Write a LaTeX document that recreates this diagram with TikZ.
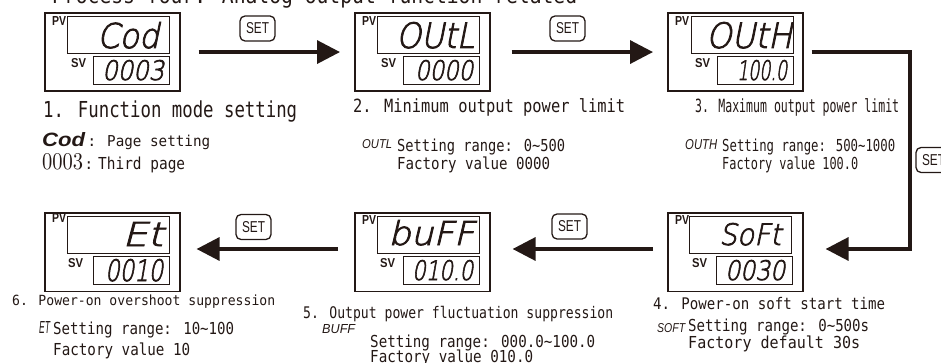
\documentclass[tikz,border=0pt]{standalone}
\usepackage{fontspec}
\usepackage{graphicx}
\usetikzlibrary{arrows.meta}
\newfontfamily\monof{DejaVu Sans Mono}
\newfontfamily\segf{Liberation Sans}
\newfontfamily\seglf{DejaVu Sans ExtraLight}[FakeSlant=0.22,FakeBold=2.5]
\definecolor{ink}{RGB}{35,24,21}
\newcommand\fw[3]{\resizebox{#1pt}{\height}{\monof\fontsize{#2pt}{#2pt}\selectfont #3}}
\newcommand\fb[3]{\resizebox{#1pt}{#2pt}{#3}}
\begin{document}
\begin{tikzpicture}[x=1pt,y=-1pt,
  outerbox/.style={draw=ink, line width=1.6pt, inner sep=0pt, anchor=north west, minimum width=135pt, minimum height=78.5pt},
  pvbox/.style={draw=ink, line width=1.3pt, inner sep=0pt, anchor=north west, minimum width=101.5pt, minimum height=37pt},
  svbox/.style={draw=ink, line width=1.3pt, inner sep=0pt, anchor=north west, minimum width=75.5pt, minimum height=28pt},
  txt/.style={inner sep=0pt, anchor=base west, text=ink},
  colon/.style={inner sep=0pt, anchor=base, text=ink, font=\monof\fontsize{15pt}{15pt}\selectfont},
  conn/.style={draw=ink, line width=3.5pt, -{Triangle[length=23pt,width=23pt]}},
  setbtn/.style={draw=ink, line width=1.3pt, rounded corners=5pt, minimum width=35pt, minimum height=25pt, inner sep=0pt, text=ink}]
\useasboundingbox (0,0) rectangle (941,363);

% title (partly cut off at top)
\node[txt] (title) at (52,4) {\fw{525}{22}{Process four: Analog output function related}};

% ---------- panel 1 ----------
\node[outerbox] (b1) at (44,12) {};
\node[pvbox] (b1pv) at (67,16) {};
\node[svbox] (b1sv) at (93,56) {};
\node[txt] (b1pvl) at (52,25.5) {\fb{14}{9}{\segf\bfseries PV}};
\node[txt] (b1svl) at (71,67.5) {\fb{15}{9}{\segf\bfseries SV}};
\node[txt] (b1pvt) at (97,48) {\fb{62}{26}{\seglf Cod}};
\node[txt] (b1svt) at (102,80) {\fb{62}{20}{\seglf 0003}};

% ---------- panel 2 ----------
\node[outerbox] (b2) at (354,12) {};
\node[pvbox] (b2pv) at (377,16) {};
\node[svbox] (b2sv) at (403,56) {};
\node[txt] (b2pvl) at (362,25.5) {\fb{14}{9}{\segf\bfseries PV}};
\node[txt] (b2svl) at (381,67.5) {\fb{15}{9}{\segf\bfseries SV}};
\node[txt] (b2pvt) at (396,48) {\fb{78}{26}{\seglf OUtL}};
\node[txt] (b2svt) at (415,80) {\fb{58}{20}{\seglf 0000}};

% ---------- panel 3 ----------
\node[outerbox] (b3) at (667,12) {};
\node[pvbox] (b3pv) at (691,16) {};
\node[svbox] (b3sv) at (717,56) {};
\node[txt] (b3pvl) at (675,25.5) {\fb{14}{9}{\segf\bfseries PV}};
\node[txt] (b3svl) at (695,67.5) {\fb{15}{9}{\segf\bfseries SV}};
\node[txt] (b3pvt) at (706,48) {\fb{86}{26}{\seglf OUtH}};
\node[txt] (b3svt) at (737,80) {\fb{50}{20}{\seglf 100.0}};

% ---------- panel 4 ----------
\node[outerbox] (b4) at (667,212) {};
\node[pvbox] (b4pv) at (689,216) {};
\node[svbox] (b4sv) at (716,256) {};
\node[txt] (b4pvl) at (675,224.5) {\fb{14}{9}{\segf\bfseries PV}};
\node[txt] (b4svl) at (692,267.5) {\fb{15}{9}{\segf\bfseries SV}};
\node[txt] (b4pvt) at (719,245) {\fb{62}{22}{\seglf SoFt}};
\node[txt] (b4svt) at (725,280) {\fb{60}{20}{\seglf 0030}};

% ---------- panel 5 ----------
\node[outerbox] (b5) at (354,212) {};
\node[pvbox] (b5pv) at (377,216) {};
\node[svbox] (b5sv) at (403,256) {};
\node[txt] (b5pvl) at (362,224.5) {\fb{14}{9}{\segf\bfseries PV}};
\node[txt] (b5svl) at (380,267.5) {\fb{15}{9}{\segf\bfseries SV}};
\node[txt] (b5pvt) at (388,245) {\fb{86}{25}{\seglf buFF}};
\node[txt] (b5svt) at (412,280) {\fb{61}{20}{\seglf 010.0}};

% ---------- panel 6 ----------
\node[outerbox] (b6) at (44,212) {};
\node[pvbox] (b6pv) at (67,216) {};
\node[svbox] (b6sv) at (93,256) {};
\node[txt] (b6pvl) at (52,222.5) {\fb{14}{9}{\segf\bfseries PV}};
\node[txt] (b6svl) at (68,267.5) {\fb{15}{9}{\segf\bfseries SV}};
\node[txt] (b6pvt) at (122,246) {\fb{41}{24}{\seglf Et}};
\node[txt] (b6svt) at (105,281) {\fb{58}{22}{\seglf 0010}};

% ---------- connectors ----------
\coordinate (c2) at (910,249);
\draw[conn] ([xshift=18pt]b1.east) -- ([xshift=-14pt]b2.west);
\draw[conn] ([xshift=21pt]b2.east) -- ([xshift=-14pt]b3.west);
\draw[conn] ([xshift=8pt]b3.east) -| (c2) -- ([xshift=22pt]b4.east |- c2);
\draw[conn] ([xshift=-14pt]b4.west |- c2) -- ([xshift=22pt]b5.east |- c2);
\draw[conn] ([xshift=-16pt]b5.west |- c2) -- ([xshift=16pt]b6.east |- c2);

% ---------- SET buttons ----------
\node[setbtn] (s1) at (257.5,28.5) {\fb{23}{11}{\segf SET}};
\node[setbtn] (s2) at (567.5,28.5) {\fb{23}{11}{\segf SET}};
\node[setbtn] (s3) at (933.5,160) {\fb{23}{11}{\segf SET}};
\node[setbtn] (s4) at (569.5,226.5) {\fb{23}{11}{\segf SET}};
\node[setbtn] (s5) at (253.5,227) {\fb{23}{11}{\segf SET}};

% ---------- captions ----------
\node[txt] (cap1) at (43,118) {\fw{254}{22}{1. Function mode setting}};
\node[txt] (cap2) at (353,113) {\fw{272}{18.2}{2. Minimum output power limit}};
\node[txt] (cap3) at (695,112.7) {\fw{204}{18.2}{3. Maximum output power limit}};
\node[txt] (cap4) at (653,309) {\fw{232}{16}{4. Power-on soft start time}};
\node[txt] (cap5) at (303,318) {\fw{310}{16}{5. Output power fluctuation suppression}};
\node[txt] (cap6) at (12,305) {\fw{263}{14}{6. Power-on overshoot suppression}};

% ---------- panel 1 notes ----------
\node[txt] (codk) at (42,147) {\fb{43}{14}{\segf\bfseries\itshape Cod}};
\node[colon] (codc) at (92,147) {:};
\node[txt] (codv) at (107,147) {\fw{103}{15}{Page setting}};
\node[txt] (pgk) at (42,170) {\fb{41}{16}{\rmfamily 0003}};
\node[colon] (pgc) at (89,170) {:};
\node[txt] (pgv) at (98,170) {\fw{87}{16.5}{Third page}};

% ---------- panel 2 notes ----------
\node[txt] (n2k) at (362,149) {\fb{30}{9}{\segf\itshape OUTL}};
\node[txt] (n2a) at (397,152) {\fw{168}{16.5}{Setting range: 0\textasciitilde500}};
\node[txt] (n2b) at (397,170) {\fw{153}{16.5}{Factory value 0000}};

% ---------- panel 3 notes ----------
\node[txt] (n3k) at (685,150) {\fb{32}{10}{\segf\itshape OUTH}};
\node[txt] (n3a) at (722,152) {\fw{173}{16.5}{Setting range: 500\textasciitilde1000}};
\node[txt] (n3b) at (722,170) {\fw{136}{16.5}{Factory value 100.0}};

% ---------- panel 4 notes ----------
\node[txt] (n4k) at (657,332) {\fb{28}{9}{\segf\itshape SOFT}};
\node[txt] (n4a) at (688,331) {\fw{181}{16.5}{Setting range: 0\textasciitilde500s}};
\node[txt] (n4b) at (688,348) {\fw{172}{16.5}{Factory default 30s}};

% ---------- panel 5 notes ----------
\node[txt] (n5k) at (322,333) {\fb{33}{9}{\segf\itshape BUFF}};
\node[txt] (n5a) at (370,347) {\fw{225}{16.5}{Setting range: 000.0\textasciitilde100.0}};
\node[txt] (n5b) at (370,362) {\fw{163}{16.5}{Factory value 010.0}};

% ---------- panel 6 notes ----------
\node[txt] (n6k) at (39,333) {\fb{11}{12}{\segf\itshape ET}};
\node[txt] (n6a) at (53,334) {\fw{181}{16.5}{Setting range: 10\textasciitilde100}};
\node[txt] (n6b) at (53,355) {\fw{137}{16.5}{Factory value 10}};
\end{tikzpicture}
\end{document}
